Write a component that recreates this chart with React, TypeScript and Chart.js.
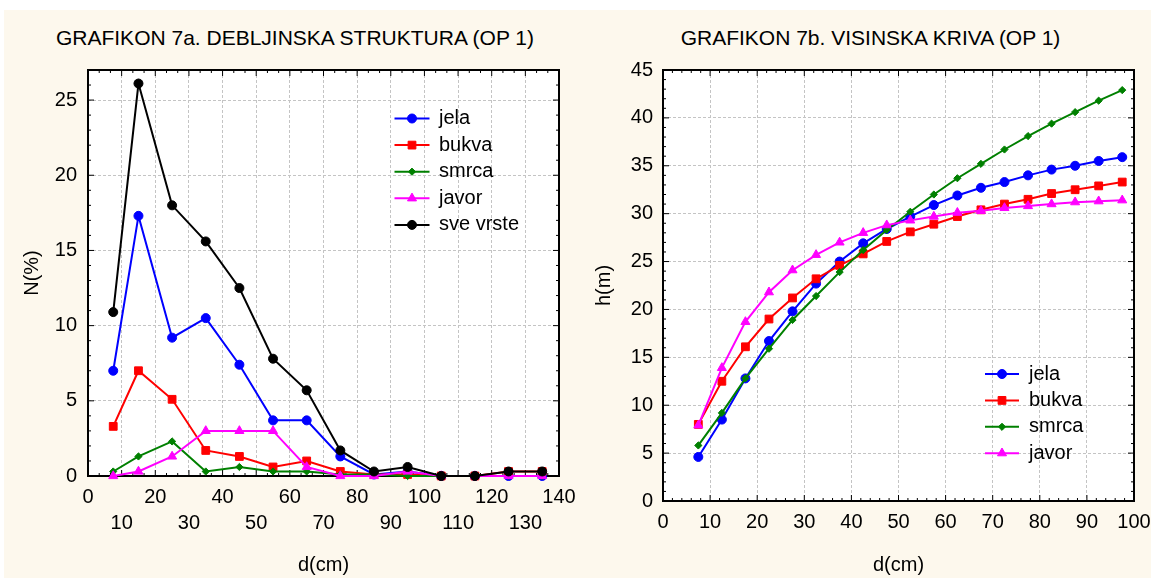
import React, { useEffect, useRef } from 'react';
import { Chart, registerables } from 'chart.js';
import { drawPoint } from 'chart.js/helpers';

Chart.register(...registerables);

const FONT = '"Liberation Sans", Arial, Helvetica, sans-serif';

// ---------- Chart 7a: diameter structure ----------
const leftTitle = 'GRAFIKON 7a. DEBLJINSKA STRUKTURA (OP 1)';
const dbhClasses = [7.5, 15, 25, 35, 45, 55, 65, 75, 85, 95, 105, 115, 125, 135];
const nJela = [7.0, 17.3, 9.2, 10.5, 7.4, 3.7, 3.7, 1.3, 0.1, 0.3, 0, 0, 0, 0];
const nBukva = [3.3, 7.0, 5.1, 1.7, 1.3, 0.6, 1.0, 0.3, 0.1, 0.1, 0, 0, 0.3, 0.3];
const nSmrca = [0.3, 1.3, 2.3, 0.3, 0.6, 0.3, 0.3, 0.1, 0.1, 0, 0, 0, 0, 0];
const nJavor = [0, 0.3, 1.3, 3.0, 3.0, 3.0, 0.6, 0, 0, 0.3, 0, 0, 0, 0];
const nSve = [10.9, 26.1, 18.0, 15.6, 12.5, 7.8, 5.7, 1.7, 0.3, 0.6, 0, 0, 0.3, 0.3];
const leftSeriesNames = ['jela', 'bukva', 'smrca', 'javor', 'sve vrste'];
const leftYTitle = 'N(%)';
const xTitle = 'd(cm)';

// ---------- Chart 7b: height curve ----------
const rightTitle = 'GRAFIKON 7b. VISINSKA KRIVA (OP 1)';
const heightDiameters = [7.5, 12.5, 17.5, 22.5, 27.5, 32.5, 37.5, 42.5, 47.5, 52.5, 57.5, 62.5, 67.5, 72.5, 77.5, 82.5, 87.5, 92.5, 97.5];
const hJela = [4.6, 8.5, 12.8, 16.7, 19.8, 22.7, 25.0, 26.9, 28.4, 29.7, 30.9, 31.9, 32.7, 33.3, 34.0, 34.6, 35.0, 35.5, 35.9];
const hBukva = [8.0, 12.5, 16.1, 19.0, 21.2, 23.2, 24.6, 25.8, 27.1, 28.1, 28.9, 29.7, 30.4, 31.0, 31.5, 32.1, 32.5, 32.9, 33.3];
const hSmrca = [5.8, 9.2, 12.8, 15.9, 18.9, 21.4, 23.9, 26.2, 28.3, 30.2, 32.0, 33.7, 35.2, 36.7, 38.1, 39.4, 40.6, 41.8, 42.9];
const hJavor = [7.9, 13.9, 18.7, 21.8, 24.1, 25.7, 27.0, 28.0, 28.8, 29.3, 29.7, 30.1, 30.3, 30.6, 30.8, 31.0, 31.2, 31.3, 31.4];
const rightSeriesNames = ['jela', 'bukva', 'smrca', 'javor'];
const rightYTitle = 'h(m)';

// styles per series (same order as names)
const seriesColors = ['#0000ff', '#ff0000', '#008000', '#ff00ff', '#000000'];
const seriesPointStyles = ['circle', 'rect', 'rectRot', 'triangle', 'circle'];
const seriesPointRadius = [4.5, 5.5, 3.6, 5.2, 4.5];

function makeDatasets(names: string[], xs: number[], ys: number[][]) {
  return names.map((name, i) => ({
    label: name,
    data: xs.map((x, j) => ({ x, y: ys[i][j] })),
    borderColor: seriesColors[i],
    backgroundColor: seriesColors[i],
    pointBackgroundColor: seriesColors[i],
    pointBorderColor: seriesColors[i],
    pointStyle: seriesPointStyles[i],
    pointRadius: seriesPointRadius[i],
    pointBorderWidth: 1,
    borderWidth: 2,
    tension: 0,
    clip: false,
    order: names.length - i,
  }));
}

const plotFrame = {
  id: 'plotFrame',
  beforeDraw(chart: any) {
    const { ctx, chartArea: a } = chart;
    ctx.save();
    ctx.fillStyle = '#ffffff';
    ctx.fillRect(a.left, a.top, a.right - a.left, a.bottom - a.top);
    ctx.restore();
  },
  beforeDatasetsDraw(chart: any, _args: any, opts: any) {
    const { ctx, chartArea: a, scales } = chart;
    const xs = scales.x;
    const ys = scales.y;
    const each = (scale: any, step: number, major: number, cb: (p: number, len: number) => void) => {
      const n = Math.round((scale.max - scale.min) / step + 1e-9);
      for (let k = 0; k <= n; k++) {
        const v = scale.min + k * step;
        if (v > scale.max + 1e-9) break;
        const isMajor = Math.abs(v / major - Math.round(v / major)) < 1e-6;
        cb(scale.getPixelForValue(v), isMajor ? 6 : 3);
      }
    };
    ctx.save();
    ctx.strokeStyle = '#000';
    ctx.lineWidth = 1;
    ctx.beginPath();
    each(xs, opts.xMinor, opts.xMajor, (p, len) => {
      ctx.moveTo(p, a.bottom);
      ctx.lineTo(p, a.bottom - len);
      ctx.moveTo(p, a.top);
      ctx.lineTo(p, a.top + len);
    });
    each(ys, opts.yMinor, opts.yMajor, (p, len) => {
      ctx.moveTo(a.left, p);
      ctx.lineTo(a.left + len, p);
      ctx.moveTo(a.right, p);
      ctx.lineTo(a.right - len, p);
    });
    ctx.stroke();
    ctx.lineWidth = 2;
    ctx.strokeRect(a.left, a.top, a.right - a.left, a.bottom - a.top);
    ctx.restore();
  },
};

const insideLegend = {
  id: 'insideLegend',
  afterDatasetsDraw(chart: any, _args: any, opts: any) {
    const { ctx } = chart;
    chart.data.datasets.forEach((ds: any, i: number) => {
      const cy = opts.y + i * opts.spacing;
      ctx.save();
      ctx.strokeStyle = ds.borderColor;
      ctx.lineWidth = 2;
      ctx.beginPath();
      ctx.moveTo(opts.x - opts.half, cy);
      ctx.lineTo(opts.x + opts.half, cy);
      ctx.stroke();
      ctx.fillStyle = ds.pointBackgroundColor;
      ctx.strokeStyle = ds.pointBorderColor;
      ctx.lineWidth = 1;
      drawPoint(ctx, { pointStyle: ds.pointStyle, radius: ds.pointRadius, borderWidth: 1, rotation: 0 } as any, opts.x, cy);
      ctx.fillStyle = '#000';
      ctx.font = `20px ${FONT}`;
      ctx.textBaseline = 'middle';
      ctx.textAlign = 'left';
      ctx.fillText(ds.label, opts.textX, cy);
      ctx.restore();
    });
  },
};

const tickFont = { family: FONT, size: 20 };
const gridCommon = { color: '#c4c4c4', lineWidth: 1, drawTicks: false };
const borderCommon = { display: false, dash: [3, 2] };

function leftConfig(): any {
  return {
    type: 'line',
    data: {
      datasets: makeDatasets(leftSeriesNames, dbhClasses, [nJela, nBukva, nSmrca, nJavor, nSve]),
    },
    plugins: [plotFrame, insideLegend],
    options: {
      responsive: false,
      animation: false,
      events: [],
      layout: { padding: { top: 70, right: 31, left: 0, bottom: 0 } },
      scales: {
        x: {
          type: 'linear',
          min: 0,
          max: 140,
          grid: gridCommon,
          border: borderCommon,
          ticks: {
            stepSize: 10,
            color: '#000',
            padding: 8,
            maxRotation: 0,
            autoSkip: false,
            font: { ...tickFont, lineHeight: 1.3 },
            callback: (v: number) => (v % 20 === 0 ? String(v) : ['', String(v)]),
          },
          title: { display: true, text: xTitle, color: '#000', font: { family: FONT, size: 20 }, padding: { top: 0, bottom: 1 } },
          afterFit: (s: any) => { s.height = 102; s.paddingLeft = 0; s.paddingRight = 0; },
        },
        y: {
          type: 'linear',
          min: 0,
          max: 27,
          grid: gridCommon,
          border: borderCommon,
          ticks: { stepSize: 5, includeBounds: false, color: '#000', padding: 11, font: tickFont },
          title: { display: true, text: leftYTitle, color: '#000', font: { family: FONT, size: 20 }, padding: { top: 20, bottom: 0 } },
          afterFit: (s: any) => { s.width = 88; s.paddingTop = 0; s.paddingBottom = 0; },
        },
      },
      plugins: {
        legend: { display: false },
        tooltip: { enabled: false },
        title: { display: false },
        plotFrame: { xMinor: 10 / 3, xMajor: 10, yMinor: 1, yMajor: 5 },
        insideLegend: { x: 412, half: 17.5, textX: 439, y: 118.5, spacing: 26.6 },
      },
    },
  };
}

function rightConfig(): any {
  return {
    type: 'line',
    data: {
      datasets: makeDatasets(rightSeriesNames, heightDiameters, [hJela, hBukva, hSmrca, hJavor]),
    },
    plugins: [plotFrame, insideLegend],
    options: {
      responsive: false,
      animation: false,
      events: [],
      layout: { padding: { top: 70, right: 17, left: 0, bottom: 0 } },
      scales: {
        x: {
          type: 'linear',
          min: 0,
          max: 100,
          grid: gridCommon,
          border: borderCommon,
          ticks: { stepSize: 10, color: '#000', padding: 9, maxRotation: 0, autoSkip: false, font: tickFont },
          title: { display: true, text: xTitle, color: '#000', font: { family: FONT, size: 20 }, padding: { top: 0, bottom: 1 } },
          afterFit: (s: any) => { s.height = 77; s.paddingLeft = 0; s.paddingRight = 0; },
        },
        y: {
          type: 'linear',
          min: 0,
          max: 45,
          grid: gridCommon,
          border: borderCommon,
          ticks: { stepSize: 5, color: '#000', padding: 10, font: tickFont },
          title: { display: true, text: rightYTitle, color: '#000', font: { family: FONT, size: 20 }, padding: { top: 2, bottom: 0 } },
          afterFit: (s: any) => { s.width = 73; s.paddingTop = 0; s.paddingBottom = 0; },
        },
      },
      plugins: {
        legend: { display: false },
        tooltip: { enabled: false },
        title: { display: false },
        plotFrame: { xMinor: 2, xMajor: 10, yMinor: 1, yMajor: 5 },
        insideLegend: { x: 412, half: 17, textX: 439, y: 374, spacing: 26.4 },
      },
    },
  };
}

export default function App() {
  const leftRef = useRef<HTMLCanvasElement | null>(null);
  const rightRef = useRef<HTMLCanvasElement | null>(null);

  useEffect(() => {
    const c1 = new Chart(leftRef.current as HTMLCanvasElement, leftConfig());
    const c2 = new Chart(rightRef.current as HTMLCanvasElement, rightConfig());
    return () => {
      c1.destroy();
      c2.destroy();
    };
  }, []);

  const titleStyle: React.CSSProperties = {
    position: 'absolute',
    top: 26,
    fontFamily: FONT,
    fontSize: 21,
    lineHeight: '24px',
    color: '#000',
    textAlign: 'center',
    whiteSpace: 'nowrap',
  };

  return (
    <div style={{ position: 'fixed', left: 0, top: 0, width: 1151, height: 578, background: '#ffffff', overflow: 'hidden' }}>
      <div style={{ position: 'absolute', left: 4, top: 10, right: 0, bottom: 0, background: '#fdf8ed' }} />
      <div style={{ ...titleStyle, left: 0, width: 590 }}>{leftTitle}</div>
      <div style={{ ...titleStyle, left: 590, width: 561 }}>{rightTitle}</div>
      <canvas ref={leftRef} width={590} height={578} style={{ position: 'absolute', left: 0, top: 0, display: 'block' }} />
      <canvas ref={rightRef} width={561} height={578} style={{ position: 'absolute', left: 590, top: 0, display: 'block' }} />
    </div>
  );
}
